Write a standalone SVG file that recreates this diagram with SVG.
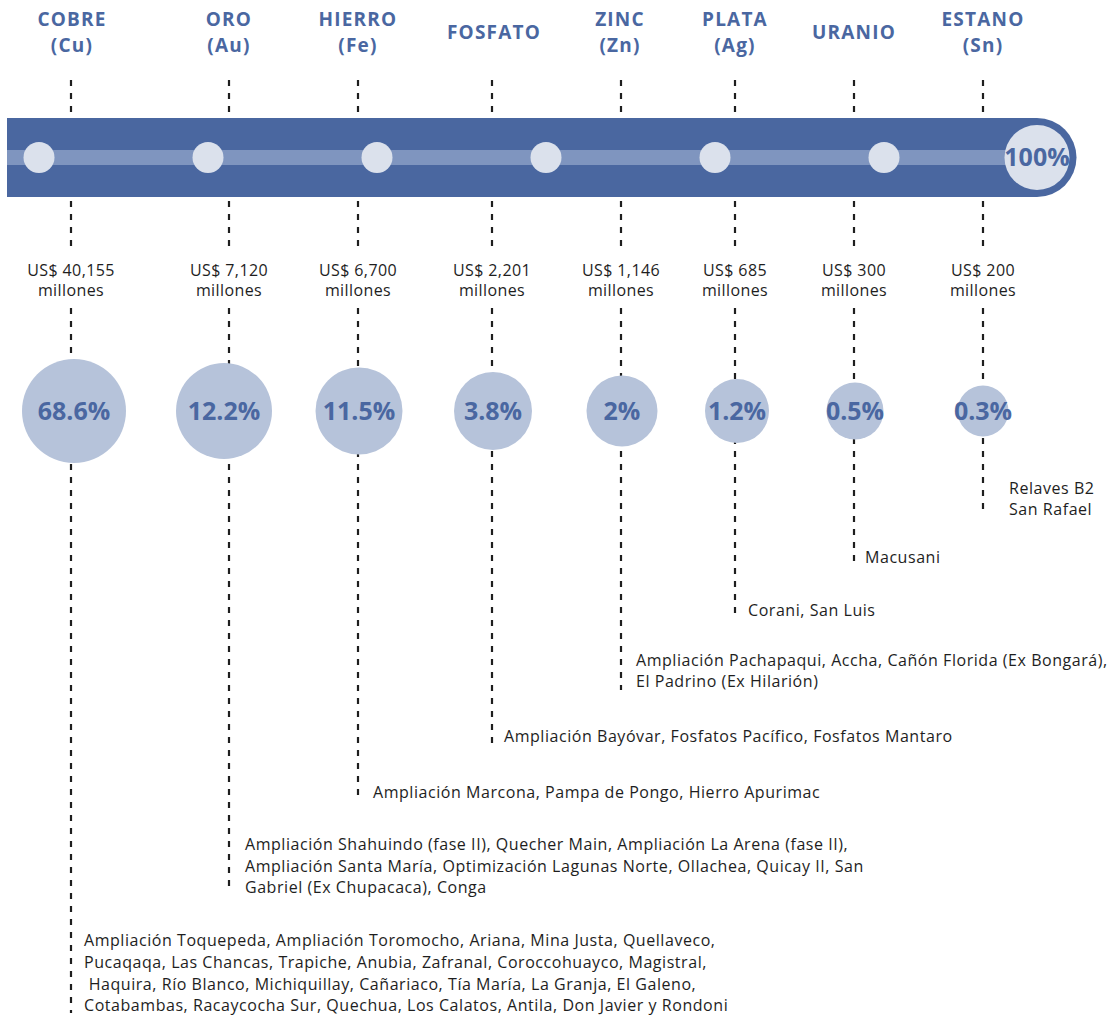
<svg xmlns="http://www.w3.org/2000/svg" width="1120" height="1015" viewBox="0 0 1120 1015">
<style>
.title{font-family:"Open Sans","Liberation Sans",sans-serif;font-weight:700;font-size:19px;fill:#4a67a1;text-anchor:middle;letter-spacing:1.2px}
.amt{font-family:"Open Sans","Liberation Sans",sans-serif;font-size:16px;fill:#1e1e1e;text-anchor:middle;letter-spacing:0.4px}
.pct{font-family:"Open Sans","Liberation Sans",sans-serif;font-weight:700;font-size:25px;fill:#4a67a1;text-anchor:middle}
.list{font-family:"Open Sans","Liberation Sans",sans-serif;font-size:16px;fill:#1e1e1e;letter-spacing:0.55px}
.dash{stroke:#1e1e1e;stroke-width:2.2;stroke-dasharray:6 7;fill:none}
.pc{fill:#b6c3da}
.dot{fill:#dbe1ec}
</style>
<rect width="1120" height="1015" fill="#ffffff"/>
<g id="connectors">
<path class="dash" d="M71 80V116M71 201V250M71 308V1013"/>
<path class="dash" d="M229 80V116M229 201V250M229 308V893"/>
<path class="dash" d="M358 80V116M358 201V250M358 308V800"/>
<path class="dash" d="M492 80V116M492 201V250M492 308V743"/>
<path class="dash" d="M621 80V116M621 201V250M621 308V690"/>
<path class="dash" d="M735 80V116M735 201V250M735 308V617"/>
<path class="dash" d="M854 80V116M854 201V250M854 308V565"/>
<path class="dash" d="M983 80V116M983 201V250M983 308V513"/>
</g>
<g id="bar">
<path d="M7 118H1037A39.5 39.5 0 0 1 1037 197H7Z" fill="#4a67a0"/>
<rect x="7" y="150" width="1010" height="15" fill="#7f95bf"/>
<circle class="dot" cx="39" cy="157.5" r="15.5"/>
<circle class="dot" cx="208" cy="157.5" r="15.5"/>
<circle class="dot" cx="377" cy="157.5" r="15.5"/>
<circle class="dot" cx="546" cy="157.5" r="15.5"/>
<circle class="dot" cx="715" cy="157.5" r="15.5"/>
<circle class="dot" cx="884" cy="157.5" r="15.5"/>
<circle class="dot" cx="1037" cy="157.5" r="32.5"/>
<text class="pct" x="1037" y="166">100%</text>
</g>
<g id="cobre">
<text class="title" x="72" y="25.5">COBRE</text>
<text class="title" x="72" y="51.5">(Cu)</text>
<text class="amt" x="71" y="276">US$ 40,155</text>
<text class="amt" x="71" y="296">millones</text>
<circle class="pc" cx="74" cy="411" r="52"/>
<text class="pct" x="74" y="420">68.6%</text>
<text class="list"><tspan x="84" y="946">Ampliación Toquepeda, Ampliación Toromocho, Ariana, Mina Justa, Quellaveco,</tspan><tspan x="84" y="968">Pucaqaqa, Las Chancas, Trapiche, Anubia, Zafranal, Coroccohuayco, Magistral,</tspan><tspan x="84" y="990"> Haquira, Río Blanco, Michiquillay, Cañariaco, Tía María, La Granja, El Galeno,</tspan><tspan x="84" y="1011">Cotabambas, Racaycocha Sur, Quechua, Los Calatos, Antila, Don Javier y Rondoni</tspan></text>
</g>
<g id="oro">
<text class="title" x="229" y="25.5">ORO</text>
<text class="title" x="229" y="51.5">(Au)</text>
<text class="amt" x="229" y="276">US$ 7,120</text>
<text class="amt" x="229" y="296">millones</text>
<circle class="pc" cx="224" cy="411" r="48"/>
<text class="pct" x="224" y="420">12.2%</text>
<text class="list"><tspan x="245" y="850">Ampliación Shahuindo (fase II), Quecher Main, Ampliación La Arena (fase II),</tspan><tspan x="245" y="872">Ampliación Santa María, Optimización Lagunas Norte, Ollachea, Quicay II, San</tspan><tspan x="245" y="893">Gabriel (Ex Chupacaca), Conga</tspan></text>
</g>
<g id="hierro">
<text class="title" x="358" y="25.5">HIERRO</text>
<text class="title" x="358" y="51.5">(Fe)</text>
<text class="amt" x="358" y="276">US$ 6,700</text>
<text class="amt" x="358" y="296">millones</text>
<circle class="pc" cx="359" cy="411" r="43.5"/>
<text class="pct" x="359" y="420">11.5%</text>
<text class="list" x="373" y="798">Ampliación Marcona, Pampa de Pongo, Hierro Apurimac</text>
</g>
<g id="fosfato">
<text class="title" x="494" y="39">FOSFATO</text>
<text class="amt" x="492" y="276">US$ 2,201</text>
<text class="amt" x="492" y="296">millones</text>
<circle class="pc" cx="493" cy="411" r="39"/>
<text class="pct" x="493" y="420">3.8%</text>
<text class="list" x="504" y="742">Ampliación Bayóvar, Fosfatos Pacífico, Fosfatos Mantaro</text>
</g>
<g id="zinc">
<text class="title" x="620" y="25.5">ZINC</text>
<text class="title" x="620" y="51.5">(Zn)</text>
<text class="amt" x="621" y="276">US$ 1,146</text>
<text class="amt" x="621" y="296">millones</text>
<circle class="pc" cx="622" cy="411" r="35.5"/>
<text class="pct" x="622" y="420">2%</text>
<text class="list"><tspan x="636" y="666">Ampliación Pachapaqui, Accha, Cañón Florida (Ex Bongará),</tspan><tspan x="636" y="687">El Padrino (Ex Hilarión)</tspan></text>
</g>
<g id="plata">
<text class="title" x="735" y="25.5">PLATA</text>
<text class="title" x="735" y="51.5">(Ag)</text>
<text class="amt" x="735" y="276">US$ 685</text>
<text class="amt" x="735" y="296">millones</text>
<circle class="pc" cx="737" cy="411" r="32"/>
<text class="pct" x="737" y="420">1.2%</text>
<text class="list" x="748" y="616">Corani, San Luis</text>
</g>
<g id="uranio">
<text class="title" x="854" y="39">URANIO</text>
<text class="amt" x="854" y="276">US$ 300</text>
<text class="amt" x="854" y="296">millones</text>
<circle class="pc" cx="855" cy="411" r="28.5"/>
<text class="pct" x="855" y="420">0.5%</text>
<text class="list" x="865" y="563">Macusani</text>
</g>
<g id="estano">
<text class="title" x="983" y="25.5">ESTANO</text>
<text class="title" x="983" y="51.5">(Sn)</text>
<text class="amt" x="983" y="276">US$ 200</text>
<text class="amt" x="983" y="296">millones</text>
<circle class="pc" cx="983" cy="411" r="25.5"/>
<text class="pct" x="983" y="420">0.3%</text>
<text class="list"><tspan x="1009" y="494">Relaves B2</tspan><tspan x="1009" y="515">San Rafael</tspan></text>
</g>
</svg>
